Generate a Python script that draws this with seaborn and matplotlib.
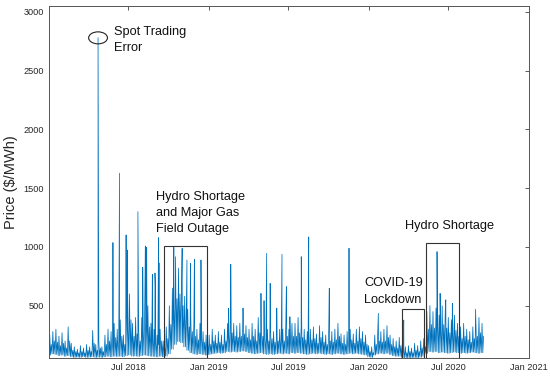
import numpy as np
import pandas as pd
import seaborn as sns
import matplotlib.pyplot as plt
import matplotlib.dates as mdates
from matplotlib.patches import Rectangle, Ellipse

# weekly envelope of the price trace (Jan 2018 - Sep 2020), $/MWh
weekly_high = [250, 280, 300, 240, 270, 200, 320, 180, 150, 130,
               160, 140, 170, 150, 290, 170, 200, 150, 250, 300,
               280, 350, 300, 380, 250, 480, 600, 350, 400, 300,
               400, 550, 500, 350, 300, 250, 300, 200, 320, 500,
               650, 800, 820, 700, 580, 470, 400, 350, 300, 350,
               280, 250, 250, 300, 250, 280, 250, 300, 350, 400,
               350, 330, 350, 380, 330, 300, 350, 300, 400, 350,
               300, 300, 320, 280, 300, 300, 300, 350, 300, 350,
               350, 400, 330, 300, 280, 300, 320, 260, 330, 280,
               250, 300, 280, 300, 350, 260, 250, 280, 300, 260,
               300, 320, 280, 250, 160, 150, 250, 300, 280, 300,
               330, 250, 220, 200, 230, 180, 150, 160, 140, 180,
               160, 200, 220, 450, 500, 450, 480, 420, 500, 450,
               400, 380, 420, 350, 320, 350, 300, 280, 320, 350,
               400, 350]
weekly_mid = [170, 200, 190, 160, 180, 140, 200, 120, 110, 100,
              110, 100, 120, 110, 180, 120, 140, 110, 170, 200,
              190, 230, 200, 240, 170, 300, 380, 240, 260, 200,
              260, 340, 320, 230, 200, 170, 200, 140, 220, 340,
              480, 560, 600, 500, 400, 320, 280, 240, 210, 240,
              190, 170, 170, 200, 180, 190, 170, 200, 240, 270,
              240, 230, 240, 260, 230, 210, 240, 200, 270, 240,
              210, 200, 220, 190, 200, 210, 200, 240, 210, 240,
              240, 270, 230, 210, 190, 210, 220, 180, 230, 190,
              170, 200, 190, 210, 240, 180, 170, 190, 210, 180,
              200, 220, 190, 170, 110, 100, 170, 200, 190, 200,
              230, 170, 150, 140, 160, 120, 100, 110, 100, 120,
              110, 140, 150, 300, 340, 310, 330, 290, 340, 310,
              270, 260, 290, 240, 220, 240, 210, 190, 220, 240,
              270, 240]
weekly_low = [80, 90, 85, 75, 80, 70, 75, 65, 60, 62,
              60, 65, 60, 62, 65, 60, 62, 60, 65, 70,
              65, 70, 68, 70, 65, 75, 80, 70, 72, 68,
              75, 80, 75, 70, 68, 65, 70, 65, 70, 90,
              130, 170, 195, 185, 150, 120, 100, 90, 85, 90,
              85, 80, 85, 90, 95, 100, 95, 100, 110, 105,
              110, 105, 110, 115, 110, 100, 95, 90, 95, 100,
              90, 85, 90, 85, 90, 95, 90, 95, 90, 100,
              95, 100, 95, 90, 85, 90, 95, 90, 95, 90,
              85, 90, 85, 90, 95, 90, 85, 90, 95, 90,
              95, 90, 85, 80, 65, 60, 80, 90, 95, 90,
              95, 85, 75, 70, 70, 60, 58, 57, 58, 60,
              58, 62, 70, 95, 110, 105, 110, 100, 105, 100,
              95, 100, 105, 100, 95, 100, 95, 100, 105, 100,
              95, 100]

# isolated price spikes
spike_dates = ["2018-04-23", "2018-05-27", "2018-06-11", "2018-06-26", "2018-06-29",
               "2018-07-23", "2018-08-03", "2018-08-09", "2018-08-12", "2018-08-25",
               "2018-08-31", "2018-09-01", "2018-09-08", "2018-09-10", "2018-10-13",
               "2018-10-17", "2018-11-01", "2018-11-12", "2018-11-20", "2018-11-29",
               "2018-12-14", "2019-02-15", "2019-02-20", "2019-03-20", "2019-04-30",
               "2019-05-07", "2019-05-13", "2019-05-21", "2019-06-05", "2019-06-17",
               "2019-06-27", "2019-07-05", "2019-07-31", "2019-08-17", "2019-10-03",
               "2019-11-17", "2020-01-23", "2020-03-21", "2020-06-05", "2020-06-12",
               "2020-06-25", "2020-07-10", "2020-09-01"]
spike_prices = [2780, 1037, 1627, 1102, 974,
                1300, 826, 1008, 997, 767,
                778, 662, 1079, 863, 997,
                917, 988, 889, 860, 895,
                889, 477, 852, 480, 605,
                543, 946, 690, 480, 937,
                662, 406, 917, 1085, 648,
                989, 435, 378, 960, 605,
                550, 520, 470]

# annotated events: (start, end, top price)
event_starts = ["2018-09-21", "2020-03-18", "2020-05-11"]
event_ends = ["2018-12-28", "2020-05-06", "2020-07-26"]
event_tops = [1010, 469, 1031]

# build the trace: low, high, low, mid within each week
week_start = pd.Timestamp("2018-01-01") + pd.to_timedelta(np.arange(len(weekly_high)) * 7, unit="D")
parts = [
    pd.DataFrame({"date": week_start, "price": weekly_low}),
    pd.DataFrame({"date": week_start + pd.Timedelta(hours=42), "price": weekly_high}),
    pd.DataFrame({"date": week_start + pd.Timedelta(hours=84), "price": weekly_low}),
    pd.DataFrame({"date": week_start + pd.Timedelta(hours=126), "price": weekly_mid}),
    pd.DataFrame({"date": pd.to_datetime(spike_dates), "price": spike_prices}),
]
df = pd.concat(parts).sort_values("date").reset_index(drop=True)

sns.set_style("white")
plt.rcParams['font.family'] = ['Liberation Sans', 'DejaVu Sans']

fig = plt.figure(figsize=(5.5, 3.77), dpi=100)
ax = fig.add_axes([49 / 550, 1 - 358 / 377, 480 / 550, 352 / 377])

sns.lineplot(data=df, x="date", y="price", ax=ax, color="#0072BD",
             linewidth=0.55, estimator=None, sort=False)

ax.set_xlim(pd.Timestamp("2018-01-01"), pd.Timestamp("2021-01-01"))
ax.set_ylim(55, 3050)
ax.set_yticks([500, 1000, 1500, 2000, 2500, 3000])
tick_dates = pd.to_datetime(["2018-07-01", "2019-01-01", "2019-07-01",
                             "2020-01-01", "2020-07-01", "2021-01-01"])
ax.set_xticks(mdates.date2num(tick_dates))
ax.xaxis.set_major_formatter(mdates.DateFormatter("%b %Y"))

ax.set_xlabel("")
ax.set_ylabel("Price ($/MWh)", fontsize=10.5, color="#262626")
ax.tick_params(direction="in", length=3, width=0.6, top=True, right=True,
               labelsize=6.6, colors="#404040", labelcolor="#262626")
for s in ax.spines.values():
    s.set_color("#555555")
    s.set_linewidth(0.7)

# event boxes
for a, b, top in zip(event_starts, event_ends, event_tops):
    x0 = mdates.date2num(pd.Timestamp(a))
    x1 = mdates.date2num(pd.Timestamp(b))
    ax.add_patch(Rectangle((x0, 55), x1 - x0, top - 55, fill=False,
                           edgecolor="#333333", linewidth=0.8, zorder=5))

# spot trading error marker
ax.add_patch(Ellipse((mdates.date2num(pd.Timestamp("2018-04-23")), 2779), 43, 102,
                     fill=False, edgecolor="#222222", linewidth=0.8, zorder=5))

tkw = dict(fontsize=9.2, color="#111111", va="center", ha="left", linespacing=1.45)
ax.text(pd.Timestamp("2018-05-29"), 2759, "Spot Trading\nError", **tkw)
ax.text(pd.Timestamp("2018-09-02"), 1290, "Hydro Shortage\nand Major Gas\nField Outage", **tkw)
ax.text(pd.Timestamp("2020-03-24"), 1179, "Hydro Shortage", **tkw)
ax.text(pd.Timestamp("2019-12-21"), 621, "COVID-19\nLockdown", **tkw)

fig.savefig("out.png", dpi=100)
